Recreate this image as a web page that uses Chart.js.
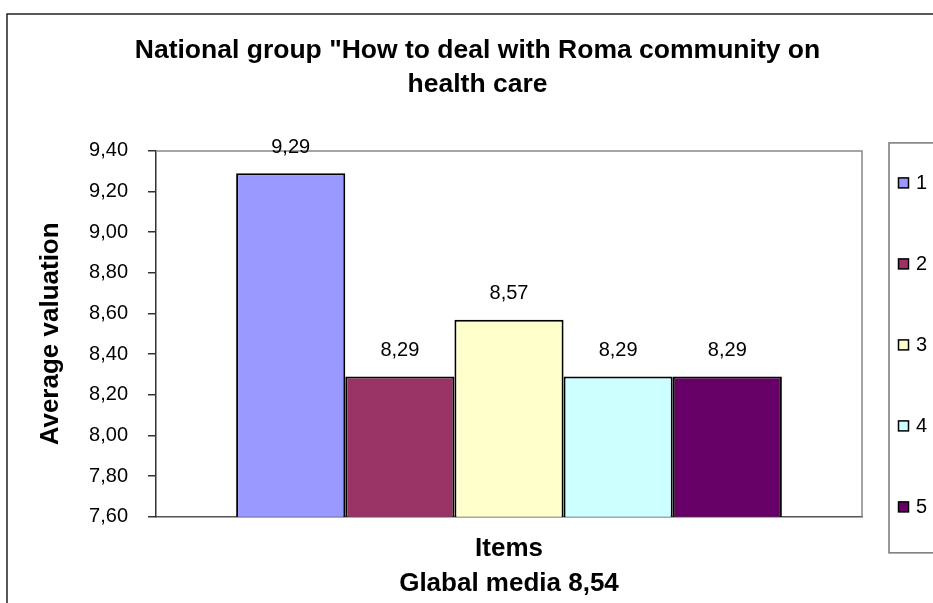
<!DOCTYPE html>
<html>
<head>
<meta charset="utf-8">
<script src="https://cdn.jsdelivr.net/npm/chart.js@4.4.1/dist/chart.umd.min.js"></script>
<style>
    html, body { margin: 0; padding: 0; background: #fff; overflow: hidden; }
    #wrap { width: 955px; height: 603px; }
</style>
</head>
<body>
<div id="wrap"><canvas id="chart" width="955" height="603"></canvas></div>
<script>
const categories = [''];
const seriesNames = ['1', '2', '3', '4', '5'];
const seriesValues = [9.29, 8.29, 8.57, 8.29, 8.29];
const seriesColors = ['#9999FF', '#993366', '#FFFFCC', '#CCFFFF', '#660066'];
const yMin = 7.6;
const yMax = 9.4;
const yStep = 0.2;
const titleLines = ['National group "How to deal with Roma community on', 'health care'];
const xTitleLines = ['Items', 'Glabal media 8,54'];
const yTitle = 'Average valuation';

const FONT = '"Liberation Sans", Arial, sans-serif';
Chart.defaults.font.family = FONT;
Chart.defaults.color = '#000';

// numbers use a decimal comma
const fmt = v => v.toFixed(2).replace('.', ',');

// outer chart frame plus the grey box round the plot
const framePlugin = {
    id: 'frame',
    beforeDraw(chart) {
        const ctx = chart.ctx;
        ctx.save();
        ctx.fillStyle = '#fff';
        ctx.fillRect(0, 0, chart.width, chart.height);
        ctx.strokeStyle = '#222';
        ctx.lineWidth = 1.5;
        ctx.strokeRect(7, 14, chart.width - 14, chart.height + 40);
        ctx.restore();
    },
    beforeDatasetsDraw(chart) {
        const {ctx, chartArea: a} = chart;
        ctx.save();
        ctx.strokeStyle = '#888';
        ctx.lineWidth = 1.5;
        ctx.beginPath();
        ctx.moveTo(a.left, a.top);
        ctx.lineTo(a.right, a.top);
        ctx.lineTo(a.right, a.bottom);
        ctx.stroke();
        ctx.restore();
    }
};

// value written above every bar
const valueLabels = {
    id: 'valueLabels',
    afterDatasetsDraw(chart) {
        const ctx = chart.ctx;
        ctx.save();
        ctx.font = '20px ' + FONT;
        ctx.fillStyle = '#000';
        ctx.textAlign = 'center';
        ctx.textBaseline = 'middle';
        chart.data.datasets.forEach((ds, i) => {
            chart.getDatasetMeta(i).data.forEach((bar, j) => {
                ctx.fillText(fmt(ds.data[j]), bar.x, bar.y - 26);
            });
        });
        ctx.restore();
    }
};

// boxed legend to the right of the plot
const sideLegend = {
    id: 'sideLegend',
    afterDraw(chart) {
        const {ctx, chartArea: a} = chart;
        const left = a.right + 27;
        const top = a.top - 8;
        const bottom = a.bottom + 36;
        ctx.save();
        ctx.strokeStyle = '#777';
        ctx.lineWidth = 1.5;
        ctx.strokeRect(left, top, 80, bottom - top);
        ctx.font = '20px ' + FONT;
        ctx.textBaseline = 'middle';
        ctx.textAlign = 'left';
        chart.data.datasets.forEach((ds, i) => {
            const cy = top + 40 + 81 * i;
            ctx.fillStyle = ds.backgroundColor;
            ctx.fillRect(left + 9.5, cy - 5, 10, 10);
            ctx.strokeStyle = '#000';
            ctx.lineWidth = 1.5;
            ctx.strokeRect(left + 9.5, cy - 5, 10, 10);
            ctx.fillStyle = '#000';
            ctx.fillText(ds.label, left + 27, cy + 1);
        });
        ctx.restore();
    }
};

const datasets = seriesNames.map((name, i) => ({
    label: name,
    data: [seriesValues[i]],
    backgroundColor: seriesColors[i],
    borderColor: '#000',
    borderWidth: 2,
    borderSkipped: false,
    yAxisID: 'y'
}));

const ctx = document.getElementById('chart').getContext('2d');
new Chart(ctx, {
    type: 'bar',
    data: {
        labels: categories,
        datasets: datasets
    },
    options: {
        responsive: false,
        animation: false,
        devicePixelRatio: 1,
        layout: { padding: 0 },
        datasets: {
            bar: {
                barPercentage: 1,
                categoryPercentage: 0.773
            }
        },
        scales: {
            x: {
                ticks: { display: false },
                grid: { display: false, drawTicks: false },
                border: { display: true, color: '#555', width: 1.5 },
                title: {
                    display: true,
                    text: xTitleLines,
                    font: { size: 26, weight: 'bold', lineHeight: 1.33 },
                    padding: { top: 15, bottom: 2 }
                }
            },
            y: {
                position: 'left',
                min: yMin,
                max: yMax,
                ticks: {
                    stepSize: yStep,
                    padding: 20,
                    font: { size: 20 },
                    callback: v => fmt(v)
                },
                grid: {
                    display: true,
                    drawOnChartArea: false,
                    drawTicks: true,
                    tickLength: 8,
                    color: '#333',
                    lineWidth: 1.5
                },
                border: { display: true, color: '#333', width: 1.5 },
                title: {
                    display: true,
                    text: yTitle,
                    font: { size: 26, weight: 'bold', lineHeight: 1.2 },
                    padding: { top: 35, bottom: 0 }
                },
                afterFit(scale) { scale.width = 156; }
            },
            // empty right-hand axis that keeps room for the legend
            y2: {
                type: 'linear',
                position: 'right',
                display: true,
                ticks: { display: false },
                grid: { display: false, drawTicks: false },
                border: { display: false },
                afterFit(scale) { scale.width = 93; }
            }
        },
        plugins: {
            legend: { display: false },
            tooltip: { enabled: false },
            title: {
                display: true,
                text: titleLines,
                color: '#000',
                font: { size: 26.5, weight: 'bold', lineHeight: 1.3 },
                padding: { top: 33, bottom: 49 }
            }
        }
    },
    plugins: [framePlugin, valueLabels, sideLegend]
});
</script>
</body>
</html>
